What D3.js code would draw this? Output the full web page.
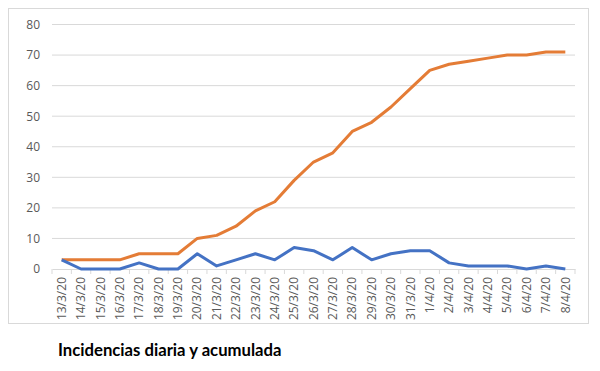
<!DOCTYPE html>
<html>
<head>
<meta charset="utf-8">
<script src="https://cdn.jsdelivr.net/npm/d3@7"></script>
<style>
  body { margin: 0; background: #fff; }
</style>
</head>
<body>
<svg width="600" height="371"></svg>
<script>
const dates = ["13/3/20","14/3/20","15/3/20","16/3/20","17/3/20","18/3/20","19/3/20","20/3/20","21/3/20","22/3/20","23/3/20","24/3/20","25/3/20","26/3/20","27/3/20","28/3/20","29/3/20","30/3/20","31/3/20","1/4/20","2/4/20","3/4/20","4/4/20","5/4/20","6/4/20","7/4/20","8/4/20"];
const diaria = [3,0,0,0,2,0,0,5,1,3,5,3,7,6,3,7,3,5,6,6,2,1,1,1,0,1,0];
const acumulada = [3,3,3,3,5,5,5,10,11,14,19,22,29,35,38,45,48,53,59,65,67,68,69,70,70,71,71];
const yTicks = [0,10,20,30,40,50,60,70,80];

const svg = d3.select("svg");
const margin = { top: 24.5, left: 52, right: 25, bottom: 102 };
const width = 600, height = 371;

// chart frame
svg.append("rect")
  .attr("x", 8.5).attr("y", 8.5)
  .attr("width", 580).attr("height", 315)
  .attr("fill", "#fff")
  .attr("stroke", "#d9d9d9");

const x = d3.scaleBand().domain(dates).range([margin.left, width - margin.right]);
const y = d3.scaleLinear().domain([0, 80]).range([269, margin.top]);

// gridlines
svg.append("g")
  .selectAll("line")
  .data(yTicks.filter(d => d > 0))
  .join("line")
  .attr("x1", margin.left).attr("x2", width - margin.right)
  .attr("y1", d => y(d)).attr("y2", d => y(d))
  .attr("stroke", "#d9d9d9").attr("stroke-width", 1);

// y axis labels
svg.append("g")
  .attr("transform", `translate(${margin.left},0)`)
  .call(d3.axisLeft(y).tickValues(yTicks).tickSize(0).tickPadding(12))
  .call(g => g.select(".domain").remove())
  .call(g => g.selectAll("text")
    .attr("fill", "#595959")
    .style("font-family", "'Open Sans', sans-serif")
    .style("font-size", "12px"));

// x axis
const xAxis = svg.append("g")
  .attr("transform", `translate(0,${y(0)})`)
  .call(d3.axisBottom(x).tickSize(0).tickPadding(8));
xAxis.select(".domain").attr("stroke", "#d9d9d9");
xAxis.selectAll("text")
  .attr("fill", "#595959")
  .style("font-family", "'Open Sans', sans-serif")
  .style("font-size", "12px")
  .attr("transform", "rotate(-90)")
  .attr("text-anchor", "end")
  .attr("x", -8)
  .attr("y", 0)
  .attr("dy", "0.35em");

// tick marks at band boundaries
xAxis.append("g")
  .selectAll("line")
  .data(d3.range(dates.length + 1))
  .join("line")
  .attr("x1", i => margin.left + i * x.step())
  .attr("x2", i => margin.left + i * x.step())
  .attr("y1", 0).attr("y2", 5)
  .attr("stroke", "#d9d9d9");

const line = d3.line()
  .x((d, i) => x(dates[i]) + x.bandwidth() / 2)
  .y(d => y(d));

svg.append("path")
  .datum(acumulada)
  .attr("d", line)
  .attr("fill", "none")
  .attr("stroke", "#e47c36")
  .attr("stroke-width", 3)
  .attr("stroke-linejoin", "round");

svg.append("path")
  .datum(diaria)
  .attr("d", line)
  .attr("fill", "none")
  .attr("stroke", "#4472c4")
  .attr("stroke-width", 3)
  .attr("stroke-linejoin", "round");

// title
svg.append("text")
  .attr("x", 58).attr("y", 356)
  .attr("fill", "#000")
  .style("font-family", "Lato, sans-serif")
  .style("font-weight", "bold")
  .style("font-size", "16.7px")
  .text("Incidencias diaria y acumulada");
</script>
</body>
</html>
